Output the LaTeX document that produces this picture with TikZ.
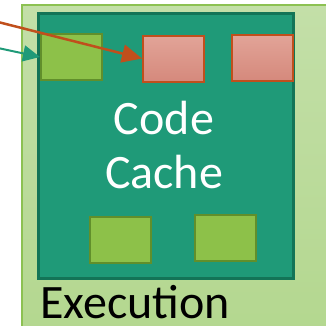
\documentclass[tikz,border=0pt]{standalone}
\usepackage{fontspec}
\setmainfont{Carlito}
\usepackage{xcolor}
\usetikzlibrary{arrows.meta, positioning}

\definecolor{execfill}{HTML}{C3DFA8}
\definecolor{execfilldark}{HTML}{B3D78E}
\definecolor{execline}{HTML}{8CC152}
\definecolor{cachefill}{HTML}{1F9A78}
\definecolor{cacheline}{HTML}{137457}
\definecolor{blockgreen}{HTML}{8DC149}
\definecolor{blockgreenline}{HTML}{618F2B}
\definecolor{blockpink}{HTML}{E2A498}
\definecolor{blockpinkdark}{HTML}{D5897C}
\definecolor{blockpinkline}{HTML}{C04F1C}

\begin{document}
\begin{tikzpicture}[
    x=1pt, y=-1pt,
    block/.style={draw, line width=2pt, minimum width=61pt, minimum height=46pt, inner sep=0pt},
    hotblock/.style={block, draw=blockpinkline, top color=blockpink, bottom color=blockpinkdark},
    coldblock/.style={block, draw=blockgreenline, fill=blockgreen},
]
\useasboundingbox (0,0) rectangle (326,325);
\clip (0,0) rectangle (326,325);

% execution area and code cache
\draw[execline, line width=1.5pt, top color=execfill, bottom color=execfilldark] (22,5) rectangle (345,345);
\node[draw=cacheline, fill=cachefill, line width=3pt, minimum width=255pt, minimum height=265pt, inner sep=0pt] (cache) at (165.5,145.5) {};
\node[font=\fontsize{48}{54}\selectfont, text=white, align=center] (cache-label) at (164,145) {Code\\Cache};
\node[font=\fontsize{48}{54}\selectfont, anchor=base west, inner sep=0pt] (exec-label) at (40,318) {Execution};

% blocks
\node[coldblock] (g1) at (71.5,57) {};
\node[hotblock] (p1) at (173.5,58.5) {};
\node[hotblock] (p2) at (262.5,57.5) {};
\node[coldblock] (g2) at (120,239.5) {};
\node[coldblock] (g3) at (225,237.5) {};

% incoming
\coordinate (in-hot) at (-2,22);
\coordinate (in-cold) at (-2,48);
\draw[blockpinkline, line width=2.5pt, -{Triangle[length=20pt,width=18pt]}] (in-hot) -- (p1.west);
\draw[cachefill, line width=2pt, -{Triangle[length=17pt,width=16pt]}] (in-cold) -- (g1.west);
\end{tikzpicture}
\end{document}
